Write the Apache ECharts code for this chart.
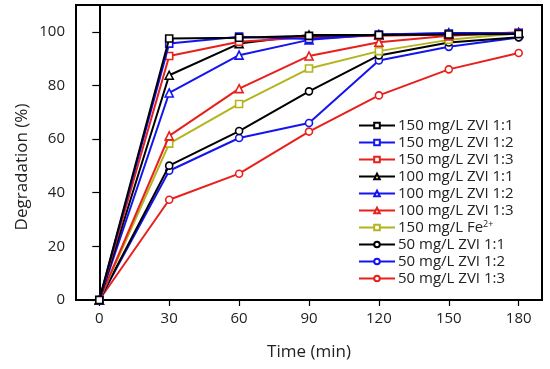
<!DOCTYPE html>
<html><head><meta charset="utf-8">
<script src="https://cdn.jsdelivr.net/npm/echarts@6/dist/echarts.min.js"></script>
<style>html,body{margin:0;padding:0;background:#fff}#c{width:550px;height:369px}</style>
</head><body><div id="c"></div>
<script>
const times = [0, 30, 60, 90, 120, 150, 180];
const xTicks = [0, 30, 60, 90, 120, 150, 180];
const yTicks = [0, 20, 40, 60, 80, 100];
const names = ['150 mg/L ZVI 1:1','150 mg/L ZVI 1:2','150 mg/L ZVI 1:3','100 mg/L ZVI 1:1','100 mg/L ZVI 1:2','100 mg/L ZVI 1:3','150 mg/L Fe2+','50 mg/L ZVI 1:1','50 mg/L ZVI 1:2','50 mg/L ZVI 1:3'];
const zvi150_11 = [0, 97.5, 97.8, 98.5, 98.8, 99.0, 99.2];
const zvi150_12 = [0, 95.6, 98.2, 97.3, 99.0, 99.4, 99.5];
const zvi150_13 = [0, 91.0, 96.3, 98.0, 98.5, 99.0, 99.6];
const zvi100_11 = [0, 83.8, 95.6, 98.8, 98.8, 99.2, 99.4];
const zvi100_12 = [0, 77.2, 91.3, 97.0, 99.0, 99.6, 99.6];
const zvi100_13 = [0, 61.2, 78.8, 91.0, 96.1, 98.5, 99.8];
const fe150 = [0, 58.3, 73.1, 86.3, 92.8, 97.0, 99.5];
const zvi50_11 = [0, 50.1, 63.0, 77.8, 91.2, 96.0, 98.0];
const zvi50_12 = [0, 48.2, 60.4, 66.0, 89.3, 94.4, 97.9];
const zvi50_13 = [0, 37.4, 47.1, 62.8, 76.3, 86.0, 92.1];
const seriesData = [zvi150_11, zvi150_12, zvi150_13, zvi100_11, zvi100_12, zvi100_13, fe150, zvi50_11, zvi50_12, zvi50_13];
const colors = ['#000000','#1414f0','#e8201c','#000000','#1414f0','#e8201c','#b4b41e','#000000','#1414f0','#e8201c'];
const symbols = ['rect','rect','rect','triangle','triangle','triangle','rect','circle','circle','circle'];

const FONT = 'Open Sans';
const chart = echarts.init(document.getElementById('c'));
const series = seriesData.map((d, i) => ({
  name: names[i],
  type: 'line',
  data: d.map((v, j) => [times[j], v]),
  symbol: symbols[i],
  symbolSize: symbols[i] === 'triangle' ? 8 : 7,
  showAllSymbol: true,
  lineStyle: { color: colors[i], width: 2 },
  itemStyle: { color: '#fff', borderColor: colors[i], borderWidth: 1.6 },
  z: 20 - i
}));
chart.setOption({
  animation: false,
  backgroundColor: '#fff',
  grid: { left: 76, right: 8, top: 5, bottom: 69, show: true, borderColor: '#000', borderWidth: 2 },
  xAxis: {
    type: 'value', min: -10, max: 190,
    name: 'Time (min)', nameLocation: 'middle', nameGap: 44,
    nameTextStyle: { fontFamily: FONT, fontSize: 17, color: '#222' },
    axisLine: { show: true, lineStyle: { color: '#000', width: 2 } },
    axisTick: { show: true, length: 6, lineStyle: { color: '#000', width: 1.2 }, customValues: xTicks },
    axisLabel: { fontFamily: FONT, fontSize: 15, color: '#222', margin: 11, customValues: xTicks },
    splitLine: { show: false }
  },
  yAxis: {
    type: 'value', min: 0, max: 110,
    axisLine: { show: true, lineStyle: { color: '#000', width: 2 } },
    axisTick: { show: true, length: 7, lineStyle: { color: '#000', width: 1.2 }, customValues: yTicks },
    axisLabel: { fontFamily: FONT, fontSize: 15, color: '#222', margin: 11, customValues: yTicks },
    splitLine: { show: false }
  },
  legend: {
    orient: 'vertical', left: 353, top: 113,
    itemWidth: 36, itemHeight: 7, itemGap: 2,
    data: names,
    formatter: function (n) { return n === '150 mg/L Fe2+' ? '{a|150 mg/L Fe}{s|2+}' : n; },
    textStyle: { fontFamily: FONT, fontSize: 15, color: '#222', lineHeight: 15, padding: [0,0,0,-2],
      rich: { a: { fontFamily: FONT, fontSize: 15, color: '#222' }, s: { fontFamily: FONT, fontSize: 9, color: '#222', verticalAlign: 'top', padding: [0,0,6,0] } } }
  },
  graphic: [{
    type: 'text', x: 22, y: 167, rotation: Math.PI / 2,
    style: { text: 'Degradation (%)', fontFamily: FONT, fontSize: 17, fill: '#222', align: 'center', verticalAlign: 'middle' }
  }],
  series: series
});
</script></body></html>
